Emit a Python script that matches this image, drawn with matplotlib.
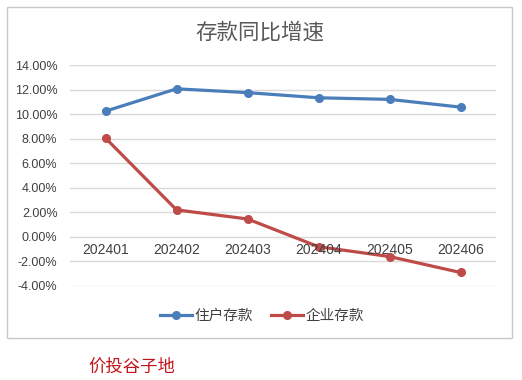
import matplotlib
matplotlib.use("Agg")
import matplotlib.pyplot as plt
from matplotlib.patches import Rectangle
from matplotlib.ticker import FuncFormatter
import numpy as np

plt.rcParams['font.family'] = ['Noto Sans CJK SC', 'DejaVu Sans']

months = ["202401", "202402", "202403", "202404", "202405", "202406"]
household = [10.24, 12.06, 11.75, 11.33, 11.20, 10.57]
corporate = [8.05, 2.20, 1.46, -0.80, -1.60, -2.90]
yticks = [14, 12, 10, 8, 6, 4, 2, 0, -2, -4]

blue = "#4A7EBB"
red = "#BE4B48"

fig = plt.figure(figsize=(5.22, 3.8), dpi=100)
fig.patches.append(Rectangle((7 / 522, 1 - 338 / 380), 505 / 522, 331 / 380,
                             transform=fig.transFigure, fill=False,
                             edgecolor="#C8C8C8", linewidth=1))

ax = fig.add_axes([70 / 522, 1 - 286 / 380, 426 / 522, 221 / 380])
x = np.arange(len(months))
ax.plot(x, household, color=blue, lw=2.3, marker="o", ms=5.5,
        mfc=blue, mec=blue, label="住户存款")
ax.plot(x, corporate, color=red, lw=2.3, marker="o", ms=5.5,
        mfc=red, mec=red, label="企业存款")

ax.set_xlim(-0.5, len(months) - 0.5)
ax.set_ylim(-4, 14)
ax.set_yticks(yticks)
ax.yaxis.set_major_formatter(FuncFormatter(lambda v, p: f"{v:.2f}%"))
ax.tick_params(axis="y", length=0, labelsize=9, colors="#404040", pad=9)
for lbl in ax.get_yticklabels():
    lbl.set_family(["Liberation Sans", "DejaVu Sans"])
ax.set_xticks([])
ax.grid(axis="y", color="#D9D9D9", lw=1)
ax.set_axisbelow(True)
for s in ax.spines.values():
    s.set_visible(False)

for i, m in enumerate(months):
    ax.text(i, -0.5, m, ha="center", va="top", fontsize=10,
            color="#404040", family=["Liberation Sans", "DejaVu Sans"])

fig.text(260 / 522, 1 - 33 / 380, "存款同比增速", ha="center", va="center",
         fontsize=15.5, color="#595959", fontweight="light")

fig.legend(loc="center", bbox_to_anchor=(262 / 522, 1 - 316 / 380), ncol=2,
           frameon=False, fontsize=10.5, handlelength=2.2, columnspacing=1.2,
           handletextpad=0.2, labelcolor="#404040")

fig.text(88 / 522, 1 - 367 / 380, "价投谷子地", ha="left", va="center",
         fontsize=12.5, color="#C0151B")

fig.savefig("out.png", dpi=100)
